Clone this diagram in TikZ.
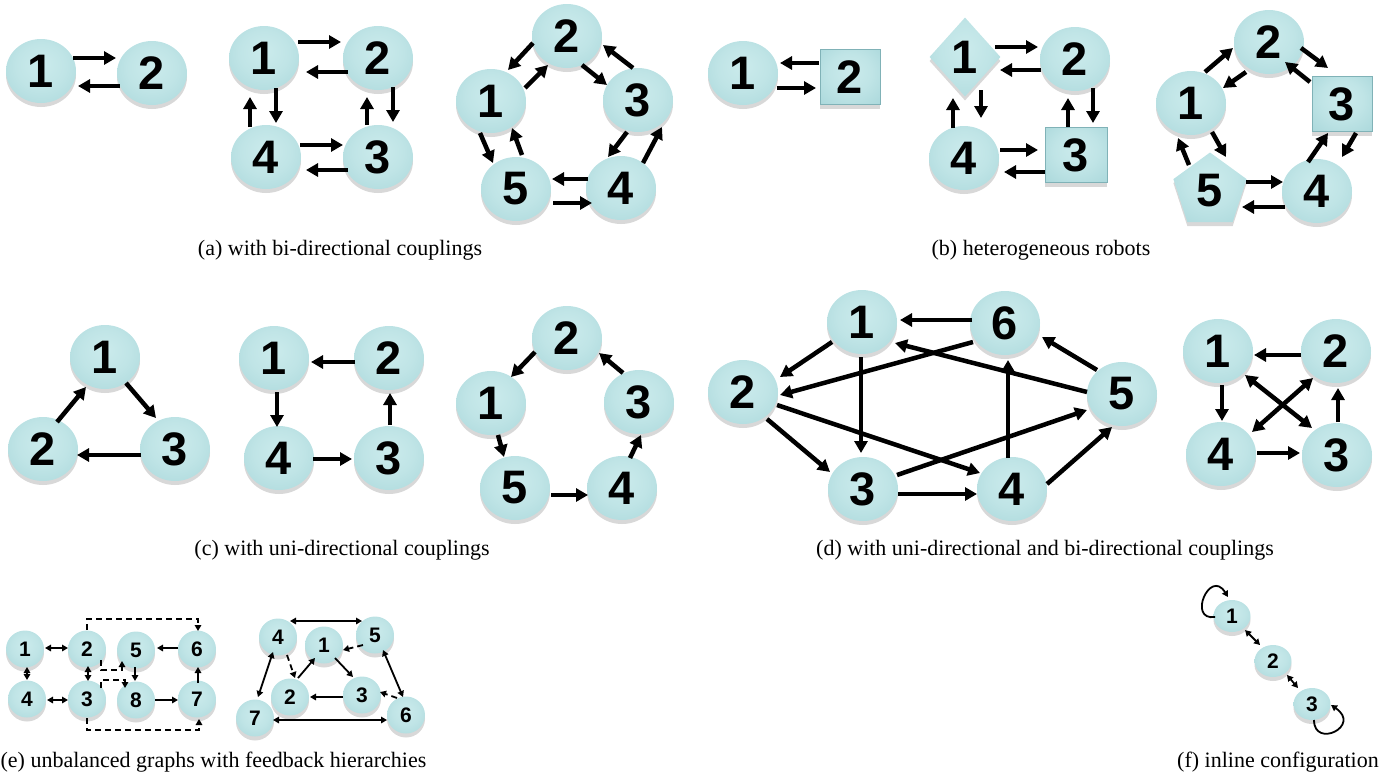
\documentclass[tikz,border=0pt]{standalone}
\usepackage{fontspec}
\setmainfont{Liberation Serif}
\newfontfamily\numfont{Liberation Sans}
\usetikzlibrary{arrows.meta,shapes.geometric,shadows,calc}
\definecolor{nHi}{HTML}{CBEBEC}
\definecolor{nMid}{HTML}{AEDADD}
\definecolor{nLow}{HTML}{9BCACE}
\definecolor{nEdge}{HTML}{80B2B7}
\pgfdeclareradialshading{ballish}{\pgfpoint{0bp}{6bp}}{color(0bp)=(nHi); color(18bp)=(nHi!60!nMid); color(34bp)=(nMid); color(46bp)=(nLow); color(54bp)=(nEdge)}
\newcommand\bnfont{\numfont\bfseries\fontsize{47}{47}\selectfont}
\newcommand\snfont{\numfont\bfseries\fontsize{21}{21}\selectfont}
\newcommand\capfont{\fontsize{22}{24}\selectfont}
\newcommand\ed[5]{\draw[#1] ($(#2)+(#3)$) -- ($(#4)+(#5)$);}
\tikzset{
  ball/.style={shade, shading=ballish, inner sep=0pt, drop shadow={opacity=0.22, shadow xshift=0pt, shadow yshift=-4pt, fill=black!70}},
  bn/.style={ball, ellipse, minimum width=70pt, minimum height=64pt, font=\bnfont},
  bsq/.style={ball, rectangle, draw=nEdge, line width=1pt, minimum width=60pt, minimum height=55pt, font=\bnfont},
  bdia/.style={ball, diamond, minimum width=71pt, minimum height=79pt, font=\bnfont},
  bpent/.style={ball, regular polygon, regular polygon sides=5, minimum size=77pt, font=\bnfont},
  sn/.style={ball, ellipse, minimum width=38pt, minimum height=37pt, font=\snfont},
  fn/.style={ball, ellipse, minimum width=37pt, minimum height=32pt, font=\snfont},
  big/.style={line width=4.5pt, -{Triangle[length=12pt,width=13pt]}},
  bigbi/.style={line width=4.5pt, {Triangle[length=12pt,width=13pt]}-{Triangle[length=12pt,width=13pt]}},
  sm/.style={line width=1.8pt, -{Triangle[length=6pt,width=6.5pt]}},
  smbi/.style={line width=1.8pt, {Triangle[length=6pt,width=6.5pt]}-{Triangle[length=6pt,width=6.5pt]}},
  dsh/.style={sm, dash pattern=on 6pt off 4pt},
  capt/.style={font=\capfont, inner sep=0pt}
}
\begin{document}
\begin{tikzpicture}[x=1pt,y=-1pt]
\useasboundingbox (0,0) rectangle (1396,779);
% ---------- (a)
\node[bn] (a1) at (41,71) {1};
\node[bn] (a2) at (152,73) {2};
\ed{big}{a1}{32,-13}{a2}{-36,-15}
\ed{big}{a2}{-32,13}{a1}{37,15}
\node[bn] (s1) at (264,58) {1};
\node[bn] (s2) at (378,58) {2};
\node[bn] (s4) at (266,157) {4};
\node[bn] (s3) at (378,157) {3};
\ed{big}{s1}{34,-16}{s2}{-37,-16}
\ed{big}{s2}{-30,14}{s1}{42,14}
\ed{big}{s1}{12,30}{s4}{10,-34}
\ed{big}{s4}{-16,-30}{s1}{-14,39}
\ed{big}{s2}{15,29}{s3}{15,-35}
\ed{big}{s3}{-11,-32}{s2}{-11,39}
\ed{big}{s4}{34,-12}{s3}{-35,-12}
\ed{big}{s3}{-30,13}{s4}{40,13}
\node[bn] (p2) at (567,36) {2};
\node[bn] (p1) at (491,101) {1};
\node[bn] (p3) at (638,100) {3};
\node[bn] (p5) at (516,189) {5};
\node[bn] (p4) at (621,188) {4};
\ed{big}{p2}{-34,7}{p1}{17,-31}
\ed{big}{p1}{34,-13}{p2}{-19,29}
\ed{big}{p2}{15,29}{p3}{-31,-15}
\ed{big}{p3}{-5,-32}{p2}{36,9}
\ed{big}{p3}{-11,32}{p4}{-13,-31}
\ed{big}{p4}{22,-25}{p3}{24,27}
\ed{big}{p4}{-33,-9}{p5}{36,-10}
\ed{big}{p5}{37,14}{p4}{-29,15}
\ed{big}{p1}{-11,32}{p5}{-23,-26}
\ed{big}{p5}{6,-34}{p1}{21,27}
\node[capt] (capa) at (340,250) {(a) with bi-directional couplings};
% ---------- (b)
\node[bn] (b1) at (743,73) {1};
\node[bsq] (bq2) at (850,77) {2};
\ed{big}{bq2}{-31,-14}{b1}{37,-10}
\ed{big}{b1}{34,15}{bq2}{-34,11}
\node[bdia] (bd1) at (965,57) {1};
\node[bn] (bc2) at (1075,59) {2};
\node[bn] (bc4) at (964,158) {4};
\node[bsq, minimum width=62pt] (bs3) at (1076,155) {3};
\ed{big}{bd1}{30,-10}{bc2}{-37,-12}
\ed{big}{bc2}{-34,11}{bd1}{35,13}
\ed{big}{bd1}{16,33}{bc4}{17,-40}
\ed{big}{bc4}{-11,-30}{bd1}{-12,41}
\ed{big}{bc2}{18,29}{bs3}{17,-32}
\ed{big}{bs3}{-8,-28}{bc2}{-7,39}
\ed{big}{bc4}{36,-8}{bs3}{-38,-5}
\ed{big}{bs3}{-31,17}{bc4}{40,14}
\node[bn] (bp2) at (1269,42) {2};
\node[bn] (bp1) at (1191,103) {1};
\node[bsq] (bp3) at (1342,104) {3};
\node[bpent] (bp5) at (1210,191) {5};
\node[bn] (bp4) at (1317,191) {4};
\ed{big}{bp1}{14,-31}{bp2}{-36,6}
\ed{big}{bp2}{-23,30}{bp1}{32,-15}
\ed{big}{bp2}{32,6}{bp3}{-14,-36}
\ed{big}{bp3}{-32,-22}{bp2}{16,20}
\ed{big}{bp3}{14,29}{bp4}{25,-34}
\ed{big}{bp4}{-9,-29}{bp3}{-14,29}
\ed{big}{bp5}{36,-9}{bp4}{-34,-9}
\ed{big}{bp4}{-32,16}{bp5}{32,16}
\ed{big}{bp1}{21,29}{bp5}{16,-34}
\ed{big}{bp5}{-21,-26}{bp1}{-13,35}
\node[capt] (capb) at (1041,250) {(b) heterogeneous robots};
% ---------- (c)
\node[bn] (t1) at (105,357) {1};
\node[bn] (t2) at (43,449) {2};
\node[bn] (t3) at (175,449) {3};
\ed{big}{t2}{14,-27}{t1}{-19,30}
\ed{big}{t1}{21,26}{t3}{-19,-31}
\ed{big}{t3}{-34,6}{t2}{34,6}
\node[bn] (c1) at (274,358) {1};
\node[bn] (c2) at (389,358) {2};
\node[bn] (c4) at (279,458) {4};
\node[bn] (c3) at (389,458) {3};
\ed{big}{c2}{-34,4}{c1}{37,4}
\ed{big}{c1}{3,34}{c4}{-2,-31}
\ed{big}{c4}{34,1}{c3}{-37,1}
\ed{big}{c3}{1,-33}{c2}{1,35}
\node[bn] (q2) at (567,338) {2};
\node[bn] (q1) at (491,403) {1};
\node[bn] (q3) at (639,402) {3};
\node[bn] (q5) at (515,488) {5};
\node[bn] (q4) at (622,488) {4};
\ed{big}{q2}{-32,14}{q1}{20,-26}
\ed{big}{q3}{-16,-29}{q2}{32,15}
\ed{big}{q1}{7,32}{q5}{-11,-31}
\ed{big}{q4}{8,-30}{q3}{2,33}
\ed{big}{q5}{36,7}{q4}{-34,7}
\node[capt] (capc) at (342,550) {(c) with uni-directional couplings};
% ---------- (d)
\node[bn] (d1) at (862,322) {1};
\node[bn] (d6) at (1005,323) {6};
\node[bn] (d2) at (743,392) {2};
\node[bn] (d5) at (1122,394) {5};
\node[bn] (d3) at (863,489) {3};
\node[bn] (d4) at (1012,489) {4};
\ed{big}{d6}{-33,-3}{d1}{38,-2}
\ed{big}{d1}{-30,20}{d2}{37,-15}
\ed{big}{d6}{-32,19}{d2}{37,3}
\ed{big}{d5}{-35,-2}{d1}{33,21}
\ed{big}{d5}{-25,-24}{d6}{37,14}
\ed{big}{d1}{-1,35}{d3}{-2,-36}
\ed{big}{d4}{-4,-31}{d6}{3,37}
\ed{big}{d2}{24,27}{d3}{-33,-17}
\ed{big}{d2}{34,13}{d4}{-32,-16}
\ed{big}{d3}{34,-14}{d5}{-35,16}
\ed{big}{d3}{35,5}{d4}{-35,5}
\ed{big}{d4}{35,-5}{d5}{-10,33}
\node[bn] (g1) at (1218,351) {1};
\node[bn] (g2) at (1336,351) {2};
\node[bn] (g4) at (1221,454) {4};
\node[bn] (g3) at (1337,455) {3};
\ed{big}{g2}{-35,4}{g1}{36,4}
\ed{big}{g1}{4,34}{g4}{1,-33}
\ed{big}{g4}{36,-1}{g3}{-37,-2}
\ed{big}{g3}{1,-33}{g2}{2,37}
\ed{bigbi}{g1}{27,24}{g3}{-25,-27}
\ed{bigbi}{g2}{-23,27}{g4}{31,-22}
\node[capt] (capd) at (1045,550) {(d) with uni-directional and bi-directional couplings};
% ---------- (e)
\node[sn] (l1) at (25,649) {1};
\node[sn] (l2) at (87,649) {2};
\node[sn] (l5) at (136,650) {5};
\node[sn] (l6) at (197,649) {6};
\node[sn] (l4) at (27,699) {4};
\node[sn] (l3) at (87,699) {3};
\node[sn] (l8) at (136,700) {8};
\node[sn] (l7) at (197,699) {7};
\ed{smbi}{l1}{20,-1}{l2}{-19,-1}
\ed{smbi}{l1}{2,18}{l4}{0,-19}
\ed{smbi}{l4}{20,1}{l3}{-19,1}
\ed{smbi}{l2}{1,17}{l3}{1,-18}
\ed{sm}{l6}{-19,-1}{l5}{21,-2}
\ed{sm}{l5}{-1,17}{l8}{-1,-19}
\ed{sm}{l8}{19,0}{l7}{-19,1}
\ed{sm}{l7}{1,-16}{l6}{1,18}
\draw[dsh] ($(l2)+(0,-19)$) -- ++(0,-11) -| ($(l6)+(1,-18)$);
\draw[dsh] ($(l2)+(14,11)$) -- ++(0,10) -| ($(l5)+(-14,11)$);
\draw[dsh] ($(l3)+(14,-11)$) -- ++(0,-8) -| ($(l8)+(-11,-12)$);
\draw[dsh] ($(l3)+(0,19)$) -- ++(0,12) -| ($(l7)+(2,20)$);
\node[sn] (r4) at (278,637) {4};
\node[sn] (r1) at (324,645) {1};
\node[sn] (r5) at (375,635) {5};
\node[sn] (r2) at (290,697) {2};
\node[sn] (r3) at (362,695) {3};
\node[sn] (r7) at (255,718) {7};
\node[sn] (r6) at (406,715) {6};
\ed{smbi}{r4}{12,-16}{r5}{-13,-14}
\ed{dsh}{r5}{-12,10}{r1}{19,5}
\ed{dsh}{r4}{9,18}{r2}{5,-19}
\ed{sm}{r2}{8,-19}{r1}{-9,13}
\ed{sm}{r1}{11,13}{r3}{-9,-18}
\ed{sm}{r3}{-19,2}{r2}{20,0}
\ed{dsh}{r6}{-9,-17}{r3}{18,-3}
\ed{smbi}{r4}{-5,15}{r7}{3,-21}
\ed{smbi}{r5}{8,15}{r6}{-3,-18}
\ed{smbi}{r7}{18,2}{r6}{-19,5}
\node[capt] (cape) at (213.5,762) {(e) unbalanced graphs with feedback hierarchies};
% ---------- (f)
\node[fn] (f1) at (1232,616) {1};
\node[fn] (f2) at (1273,661) {2};
\node[fn] (f3) at (1312,704) {3};
\ed{smbi}{f1}{13,14}{f2}{-13,-16}
\ed{smbi}{f2}{14,14}{f3}{-14,-16}
\draw[sm] ($(f1)+(-17,1)$) .. controls ($(f1)+(-45,5)$) and ($(f1)+(-22,-48)$) .. ($(f1)+(-4,-19)$);
\draw[sm] ($(f3)+(2,16)$) .. controls ($(f3)+(2,45)$) and ($(f3)+(50,22)$) .. ($(f3)+(19,1)$);
\node[capt] (capf) at (1278,762) {(f) inline configuration};
\end{tikzpicture}
\end{document}
